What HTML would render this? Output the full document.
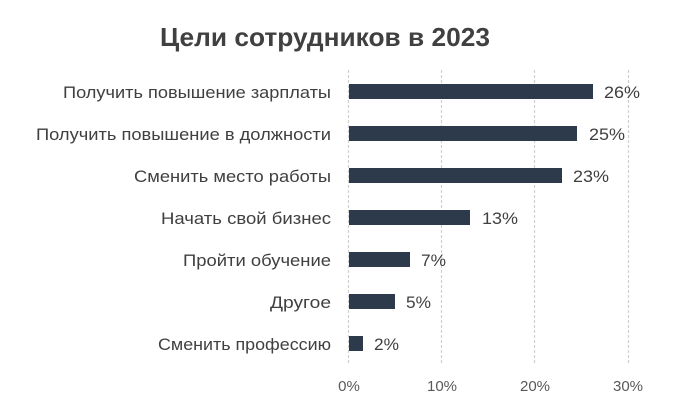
<!DOCTYPE html>
<html><head><meta charset="utf-8"><style>
body{margin:0;background:#fff}
svg text{font-family:"Liberation Sans","DejaVu Sans",sans-serif}
</style></head><body>
<svg width="680" height="410" xmlns="http://www.w3.org/2000/svg">
<rect width="680" height="410" fill="#fff"/>
<text x="160" y="46" font-size="26" font-weight="bold" fill="#404040" textLength="330" lengthAdjust="spacingAndGlyphs">Цели сотрудников в 2023</text>
<g stroke="#d0d0d0" stroke-width="1.2" stroke-dasharray="3,2">
<line x1="348.5" y1="70" x2="348.5" y2="363"/>
<line x1="441.5" y1="70" x2="441.5" y2="363"/>
<line x1="534.5" y1="70" x2="534.5" y2="363"/>
<line x1="628.5" y1="70" x2="628.5" y2="363"/>
</g>
<g fill="#2c3a4b">
<rect x="349" y="84" width="244" height="15"/>
<rect x="349" y="126" width="228" height="15"/>
<rect x="349" y="168" width="213" height="15"/>
<rect x="349" y="210" width="121" height="15"/>
<rect x="349" y="252" width="61" height="15"/>
<rect x="349" y="294" width="46" height="15"/>
<rect x="349" y="336" width="14" height="15"/>
</g>
<g font-size="17" fill="#404040">
<text x="604" y="98" textLength="36" lengthAdjust="spacingAndGlyphs">26%</text>
<text x="589" y="140" textLength="36" lengthAdjust="spacingAndGlyphs">25%</text>
<text x="573" y="182" textLength="36" lengthAdjust="spacingAndGlyphs">23%</text>
<text x="482" y="224" textLength="36" lengthAdjust="spacingAndGlyphs">13%</text>
<text x="421" y="266" textLength="25" lengthAdjust="spacingAndGlyphs">7%</text>
<text x="406" y="308" textLength="25" lengthAdjust="spacingAndGlyphs">5%</text>
<text x="374" y="350" textLength="25" lengthAdjust="spacingAndGlyphs">2%</text>
</g>
<g font-size="17" fill="#404040">
<text x="63" y="98" textLength="268" lengthAdjust="spacingAndGlyphs">Получить повышение зарплаты</text>
<text x="36" y="140" textLength="295" lengthAdjust="spacingAndGlyphs">Получить повышение в должности</text>
<text x="134" y="182" textLength="197" lengthAdjust="spacingAndGlyphs">Сменить место работы</text>
<text x="161" y="224" textLength="170" lengthAdjust="spacingAndGlyphs">Начать свой бизнес</text>
<text x="183" y="266" textLength="148" lengthAdjust="spacingAndGlyphs">Пройти обучение</text>
<text x="270" y="308" textLength="61" lengthAdjust="spacingAndGlyphs">Другое</text>
<text x="158" y="350" textLength="173" lengthAdjust="spacingAndGlyphs">Сменить профессию</text>
</g>
<g font-size="15" fill="#595959" text-anchor="middle">
<text x="349" y="391">0%</text>
<text x="442" y="391">10%</text>
<text x="535" y="391">20%</text>
<text x="628" y="391">30%</text>
</g>
</svg>
</body></html>
